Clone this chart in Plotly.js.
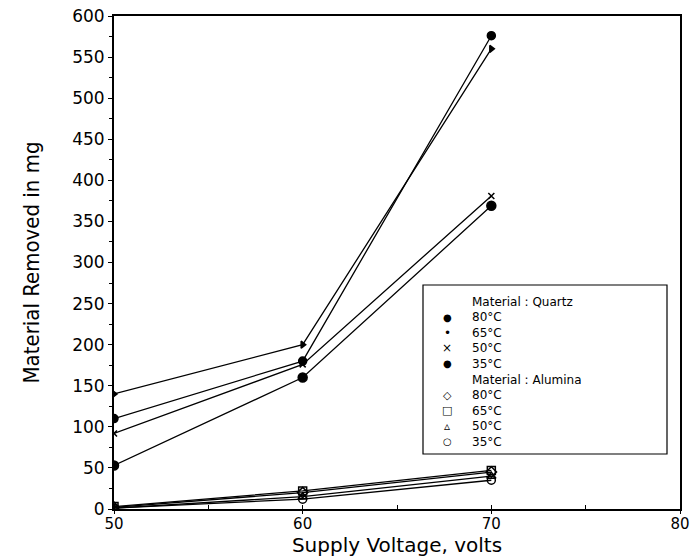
<!DOCTYPE html>
<html>
<head>
<meta charset="utf-8">
<script src="https://cdn.plot.ly/plotly-3.0.1.min.js"></script>
<style>html,body{margin:0;padding:0;background:#fff;}#chart{width:697px;height:557px;}</style>
</head>
<body>
<div id="chart"></div>
<script>
const voltage = [50, 60, 70];
const quartzLabels = ["80°C", "65°C", "50°C", "35°C"];
const quartz80 = [110, 180, 576];
const quartz65 = [140, 200, 560];
const quartz50 = [92, 176, 381];
const quartz35 = [53, 160, 369];
const aluminaLabels = ["80°C", "65°C", "50°C", "35°C"];
const alumina80 = [2, 20, 45];
const alumina65 = [3, 22, 47];
const alumina50 = [1, 15, 40];
const alumina35 = [1, 12, 35];
const groupTitles = ["Material : Quartz", "Material : Alumina"];
const xTicks = [50, 60, 70, 80];
const yTicks = [0, 50, 100, 150, 200, 250, 300, 350, 400, 450, 500, 550, 600];

const quartzSeries = [quartz80, quartz65, quartz50, quartz35];
const aluminaSeries = [alumina80, alumina65, alumina50, alumina35];
const quartzMarkers = [
  {symbol: "circle", size: 8, glyph: "●", gsize: 10},
  {symbol: "triangle-right", size: 6, glyph: "•", gsize: 12},
  {symbol: "x-thin-open", size: 6, glyph: "×", gsize: 12},
  {symbol: "circle-dot", size: 9, glyph: "●", gsize: 10}
];
const aluminaMarkers = [
  {symbol: "diamond-open", size: 8, glyph: "◇", gsize: 11},
  {symbol: "square-open", size: 8, glyph: "□", gsize: 11},
  {symbol: "triangle-up-open", size: 8, glyph: "▵", gsize: 12},
  {symbol: "circle-open", size: 8, glyph: "○", gsize: 10}
];

const traces = [];
function addSeries(vals, mk) {
  traces.push({
    x: voltage, y: vals, mode: "lines+markers", showlegend: false,
    line: {color: "#000", width: 1.3},
    marker: {symbol: mk.symbol, size: mk.size, color: "#000", line: {color: "#000", width: 1.5}}
  });
}
quartzSeries.forEach((s, i) => addSeries(s, quartzMarkers[i]));
aluminaSeries.forEach((s, i) => addSeries(s, aluminaMarkers[i]));

// Legend box drawn as text annotations (plot area: x 114..680 px, y 16..509 px)
const L = 114, R = 680, T = 16, B = 509;
const px = v => (v - L) / (R - L);
const py = v => (B - v) / (B - T);
const font = "DejaVu Sans, Liberation Sans, sans-serif";
const annotations = [];
const shapes = [{
  type: "rect", xref: "paper", yref: "paper", layer: "above",
  x0: px(423), x1: px(667), y0: py(454), y1: py(285),
  line: {color: "#000", width: 1.2}, fillcolor: "#fff"
}];
const LEG_FS = 12;
function legText(text, xpix, ypix) {
  annotations.push({xref: "paper", yref: "paper", x: px(xpix), y: py(ypix),
    xanchor: "left", yanchor: "middle", showarrow: false, text: text, borderpad: 0,
    font: {family: font, size: LEG_FS, color: "#000"}});
}
function legGlyph(mk, ypix) {
  annotations.push({xref: "paper", yref: "paper", x: px(447), y: py(ypix),
    xanchor: "center", yanchor: "middle", showarrow: false, text: mk.glyph, borderpad: 0,
    font: {family: font, size: mk.gsize, color: "#000"}});
}
const rowY = [301.5, 317.1, 332.7, 348.3, 363.9, 379.5, 395.1, 410.7, 426.3, 441.9];
legText(groupTitles[0], 471, rowY[0]);
quartzLabels.forEach((l, i) => { legGlyph(quartzMarkers[i], rowY[1 + i]); legText(l, 471, rowY[1 + i]); });
legText(groupTitles[1], 471, rowY[5]);
aluminaLabels.forEach((l, i) => { legGlyph(aluminaMarkers[i], rowY[6 + i]); legText(l, 471, rowY[6 + i]); });

const layout = {
  width: 697, height: 557,
  margin: {l: L, r: 697 - R, t: T, b: 557 - B},
  paper_bgcolor: "#fff", plot_bgcolor: "#fff",
  font: {family: font, color: "#000", size: 14},
  showlegend: false,
  shapes: shapes,
  annotations: annotations,
  xaxis: {
    range: [50, 80], tickvals: xTicks, ticktext: xTicks.map(String),
    showgrid: false, zeroline: false,
    showline: true, linecolor: "#000", linewidth: 2, mirror: true,
    ticks: "outside", ticklen: 3, tickcolor: "#000", ticklabelstandoff: -3,
    minor: {dtick: 5, ticks: "inside", ticklen: 4, tickcolor: "#000"},
    tickfont: {size: 15},
    title: {text: "Supply Voltage, volts", font: {size: 20}, standoff: 4}
  },
  yaxis: {
    range: [0, 600], tickvals: yTicks, ticktext: yTicks.map(String),
    showgrid: false, zeroline: false,
    showline: true, linecolor: "#000", linewidth: 2, mirror: true,
    ticks: "outside", ticklen: 4, tickcolor: "#000",
    minor: {dtick: 25, ticks: "outside", ticklen: 3, tickcolor: "#000"},
    tickfont: {size: 17},
    title: {text: "Material Removed in mg", font: {size: 22, family: "DejaVu Sans Condensed, DejaVu Sans, sans-serif"}, standoff: 26}
  }
};
Plotly.newPlot("chart", traces, layout, {staticPlot: true});
</script>
</body>
</html>
